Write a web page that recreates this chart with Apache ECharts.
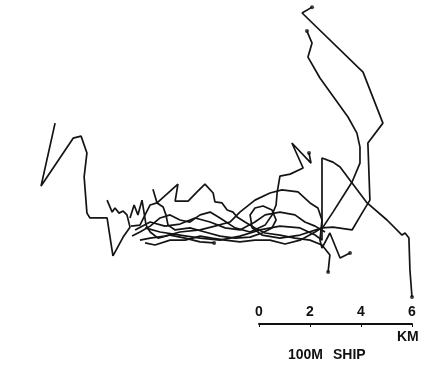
<!DOCTYPE html>
<html>
<head>
<meta charset="utf-8">
<script src="https://cdn.jsdelivr.net/npm/echarts@6/dist/echarts.min.js"></script>
<style>
  html, body { margin: 0; padding: 0; background: #fff; }
  #chart { width: 426px; height: 375px; }
</style>
</head>
<body>
<div id="chart"></div>
<script>
// ship tracks, positions in km relative to the scale bar origin [x, y]
const trackA = [[-8.00,7.84],[-8.55,5.37],[-7.29,7.25],[-6.98,7.33],[-6.75,6.67],[-6.86,5.73],[-6.75,4.31],[-6.63,4.12],[-5.96,4.12],[-5.73,2.63],[-5.33,3.37],[-5.06,3.76],[-5.18,4.24],[-5.33,4.39],[-5.49,4.31],[-5.65,4.51],[-5.76,4.35],[-5.96,4.82]];
const trackB = [[-4.16,5.25],[-4.00,4.71],[-3.18,5.45],[-3.29,4.78],[-2.78,4.78],[-2.43,5.14],[-2.12,5.45],[-1.80,5.10],[-1.73,4.75],[-1.45,4.71],[-1.25,4.43],[-1.02,4.35],[-0.86,4.16],[-0.55,3.96],[-0.16,3.73],[0.24,3.53],[0.82,3.45],[1.41,3.33],[2.00,3.25],[2.47,3.06],[2.78,2.67],[2.71,2.00]];
const trackC = [[-5.02,3.80],[-4.67,3.84],[-4.47,4.24],[-4.27,4.63],[-4.00,4.71],[-3.76,4.55],[-3.65,4.24],[-3.57,3.84],[-3.29,3.65],[-2.71,3.73],[-2.12,3.57],[-1.53,3.41],[-0.94,3.33],[-0.35,3.37],[0.12,3.53],[0.51,3.73],[0.67,4.04],[0.51,4.43],[0.16,4.59],[-0.16,4.51],[-0.35,4.24],[-0.27,3.73],[0.12,3.45],[0.82,3.33],[1.61,3.45],[2.47,3.73],[2.90,3.76],[3.65,3.65],[4.04,4.31],[4.35,4.82],[4.27,7.06],[4.86,7.84],[4.08,9.84],[1.69,12.16],[2.08,12.39]];
const trackD = [[1.96,6.67],[2.04,6.27],[1.29,7.06],[1.73,6.08],[1.22,5.84],[0.82,5.76],[0.71,5.10],[0.67,4.63],[0.51,4.24],[0.24,3.84],[-0.35,3.57],[-0.94,3.73],[-1.53,4.12],[-1.92,4.35],[-2.31,4.24],[-2.71,3.96],[-3.10,4.04],[-3.49,4.24],[-3.88,4.12],[-4.27,3.80],[-4.67,3.57],[-4.98,3.41]];
const trackE = [[-4.67,3.25],[-4.27,3.33],[-3.69,3.41],[-3.10,3.57],[-2.31,3.65],[-1.73,3.80],[-1.14,3.96],[-0.75,4.35],[-0.16,4.82],[0.43,5.10],[0.90,5.22],[1.53,5.14],[2.00,4.71],[2.31,4.51],[2.47,4.04],[2.39,3.25],[2.47,2.94],[2.78,3.53],[3.18,2.55],[3.57,2.75]];
const trackF = [[-4.47,3.73],[-3.88,3.57],[-3.10,3.45],[-2.31,3.33],[-1.53,3.25],[-0.75,3.41],[0.04,3.65],[0.82,3.80],[1.61,3.73],[2.20,3.45],[2.47,3.25],[2.47,6.47],[2.90,6.31],[3.18,6.12],[3.65,5.49],[4.24,4.71],[5.02,4.04],[5.61,3.45],[5.73,3.53],[5.88,3.33],[5.92,2.08],[6.00,1.02]];
const trackG = [[1.88,11.45],[2.08,10.98],[1.92,10.43],[2.39,9.61],[3.49,8.08],[3.84,7.45],[3.96,6.90],[3.96,6.27],[3.65,5.53],[2.90,4.35],[2.51,3.76],[2.20,3.57],[1.61,3.25],[1.02,3.10],[0.43,3.25],[-0.16,3.25],[-0.75,3.18],[-1.33,3.25],[-1.84,3.33],[-2.31,3.41],[-2.90,3.25],[-3.49,3.25],[-4.08,3.06],[-4.47,3.14]];
const trackH = [[-5.06,4.12],[-4.90,4.63],[-4.75,4.24],[-4.59,4.82],[-4.43,3.84],[-4.27,3.57],[-3.96,3.33],[-3.49,3.45],[-2.90,3.33],[-2.31,3.18],[-1.76,3.14]];
const trackI = [[-4.86,3.65],[-4.27,3.96],[-3.69,3.80],[-3.10,3.88],[-2.51,4.12],[-1.92,3.96],[-1.33,3.73],[-0.75,3.65],[-0.16,3.96],[0.24,4.24],[0.82,4.35],[1.41,4.24],[1.80,3.96],[2.20,3.80],[2.59,3.57]];

const tracks = [trackA, trackB, trackC, trackD, trackE, trackF, trackG, trackH, trackI];
// which end of each track carries a dot: 'start', 'end' or none
const dotEnds = [null, 'end', 'end', 'start', 'end', 'end', 'start', 'end', null];

const scaleTicks = ['0', '2', '4', '6'];

const chart = echarts.init(document.getElementById('chart'));

const series = tracks.map(function (t) {
  return {
    type: 'line',
    xAxisIndex: 0,
    yAxisIndex: 0,
    data: t,
    showSymbol: false,
    silent: true,
    animation: false,
    lineStyle: { color: '#141414', width: 1.7 }
  };
});

const dots = [];
tracks.forEach(function (t, i) {
  if (dotEnds[i] === 'start') dots.push(t[0]);
  if (dotEnds[i] === 'end') dots.push(t[t.length - 1]);
});
series.push({
  type: 'scatter',
  data: dots,
  symbolSize: 4,
  itemStyle: { color: '#111' },
  silent: true,
  animation: false
});

const textFont = 'bold 14px "Liberation Sans"';

chart.setOption({
  backgroundColor: '#fff',
  grid: [
    { left: 0, right: 0, top: 0, bottom: 0 },
    { left: 259, width: 153, top: 323, height: 1 }
  ],
  xAxis: [
    { gridIndex: 0, type: 'value', min: -10.16, max: 6.55, show: false },
    {
      gridIndex: 1, type: 'value', min: 0, max: 6, interval: 2, position: 'top',
      axisLine: { lineStyle: { color: '#111', width: 2 } },
      axisTick: { show: true, inside: true, length: 3, lineStyle: { color: '#111' } },
      splitLine: { show: false },
      axisLabel: {
        margin: 4, color: '#111', fontFamily: 'Liberation Sans', fontWeight: 'bold', fontSize: 14,
        formatter: function (v) { return scaleTicks[v / 2]; }
      }
    }
  ],
  yAxis: [
    { gridIndex: 0, type: 'value', min: -2.04, max: 12.67, show: false },
    { gridIndex: 1, type: 'value', show: false }
  ],
  graphic: [
    { type: 'text', left: 397, top: 330, style: { text: 'KM', font: textFont, fill: '#111' } },
    { type: 'text', left: 288, top: 348, style: { text: '100M', font: textFont, fill: '#111' } },
    { type: 'text', left: 333, top: 348, style: { text: 'SHIP', font: textFont, fill: '#111' } }
  ],
  series: series
});
</script>
</body>
</html>
